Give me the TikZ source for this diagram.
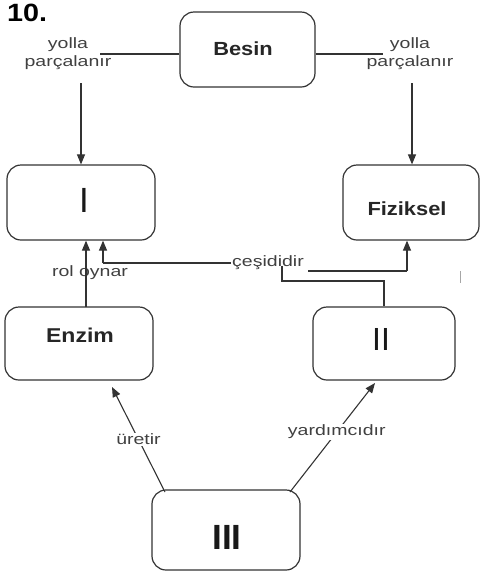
\documentclass[tikz,border=0pt]{standalone}
\usepackage{fontspec}
\setmainfont{Liberation Sans}
\newfontfamily\lblfont[FakeStretch=1.3]{Liberation Sans}
\newfontfamily\boxfont[FakeStretch=1.15]{Liberation Sans}
\usetikzlibrary{calc,arrows.meta}
\begin{document}
\begin{tikzpicture}[x=1pt,y=-1pt,
  box/.style={draw=black!80, line width=1.2pt, rounded corners=14pt, inner sep=0pt},
  lbl/.style={text=black!75, font=\lblfont\fontsize{15}{18}\selectfont, inner sep=1pt, align=center},
  btxt/.style={text=black!85, font=\boxfont\bfseries\fontsize{19}{22}\selectfont, inner sep=0pt},
  num/.style={text=black!90, inner sep=0pt},
  ln/.style={draw=black!80, line width=1.1pt},
  arr/.style={ln, -{Triangle[length=10pt,width=8pt]}}]
\useasboundingbox (0,0) rectangle (481,574);
% title
\node[anchor=north west, font=\boxfont\bfseries\fontsize{25}{28}\selectfont, inner sep=0pt] (title) at (7,4) {10.};
% boxes
\node[box, minimum width=135pt, minimum height=75pt] (besin) at (247.5,49.5) {};
\node[box, minimum width=148pt, minimum height=75pt] (I) at (81,202.5) {};
\node[box, minimum width=136pt, minimum height=75pt] (fiz) at (411,202.5) {};
\node[box, minimum width=148pt, minimum height=73pt] (enzim) at (79,343.5) {};
\node[box, minimum width=142pt, minimum height=73pt] (ii) at (384,343.5) {};
\node[box, minimum width=148pt, minimum height=80pt] (iii) at (226,530) {};
% box texts
\node[btxt] (besint) at (243,49) {Besin};
\node[num, font=\fontsize{35}{35}\selectfont] (It) at (84,200) {I};
\node[btxt] (fizt) at (407,209) {Fiziksel};
\node[btxt, font=\boxfont\bfseries\fontsize{20}{22}\selectfont] (enzimt) at (80,335) {Enzim};
\node[num, font=\fontsize{32}{32}\selectfont] (iit) at (381,339) {II};
\node[num, font=\bfseries\fontsize{35}{35}\selectfont] (iiit) at (227,537) {III};
% labels
\node[lbl] (lab1) at (68,54) {yolla\\parçalanır};
\node[lbl] (lab2) at (410,54) {yolla\\parçalanır};
\node[lbl] (rol) at (90,273) {rol oynar};
\node[lbl] (cesit) at (268,263) {çeşididir};
% Besin -> I
\coordinate (q1) at (100,54);
\draw[ln] (besin.west |- q1) -- (q1);
\coordinate (p1) at (81,83);
\draw[arr] (p1) -- (I.north);
% Besin -> Fiziksel
\coordinate (q2) at (383,54);
\draw[ln] (besin.east |- q2) -- (q2);
\coordinate (p2) at (412,83);
\draw[arr] (p2) -- (p2 |- fiz.north);
% Enzim -> I (rol oynar)
\coordinate (r1) at (86,307);
\draw[arr] (r1) -- (r1 |- I.south);
% cesididir -> I and Fiziksel
\coordinate (c1) at (103,263);
\draw[ln] (cesit.west) -- (c1);
\draw[arr] (c1) -- (c1 |- I.south);
\coordinate (c2) at (407,271);
\coordinate (c5) at (308,271);
\draw[ln] (c5) -- (c2);
\draw[arr] (c2) -- (c2 |- fiz.south);
% II -> cesididir
\coordinate (c3) at (282,281);
\coordinate (c4) at (282,266);
\draw[ln] (ii.north) -- (ii.north |- c3) -- (c3) -- (c4);
% III -> Enzim, III -> II
\coordinate (s1) at (165,492);
\coordinate (e1) at (112,387);
\draw[arr] (s1) -- node[lbl, fill=white, pos=0.5] (uretir) {üretir} (e1);
\coordinate (s2) at (290,492);
\coordinate (e2) at (375,383);
\draw[arr] (s2) -- node[lbl, fill=white, pos=0.55] (yard) {yardımcıdır} (e2);
% stray tick
\draw[draw=black!35, line width=0.8pt] (460,271) -- (460,283);
\end{tikzpicture}
\end{document}
